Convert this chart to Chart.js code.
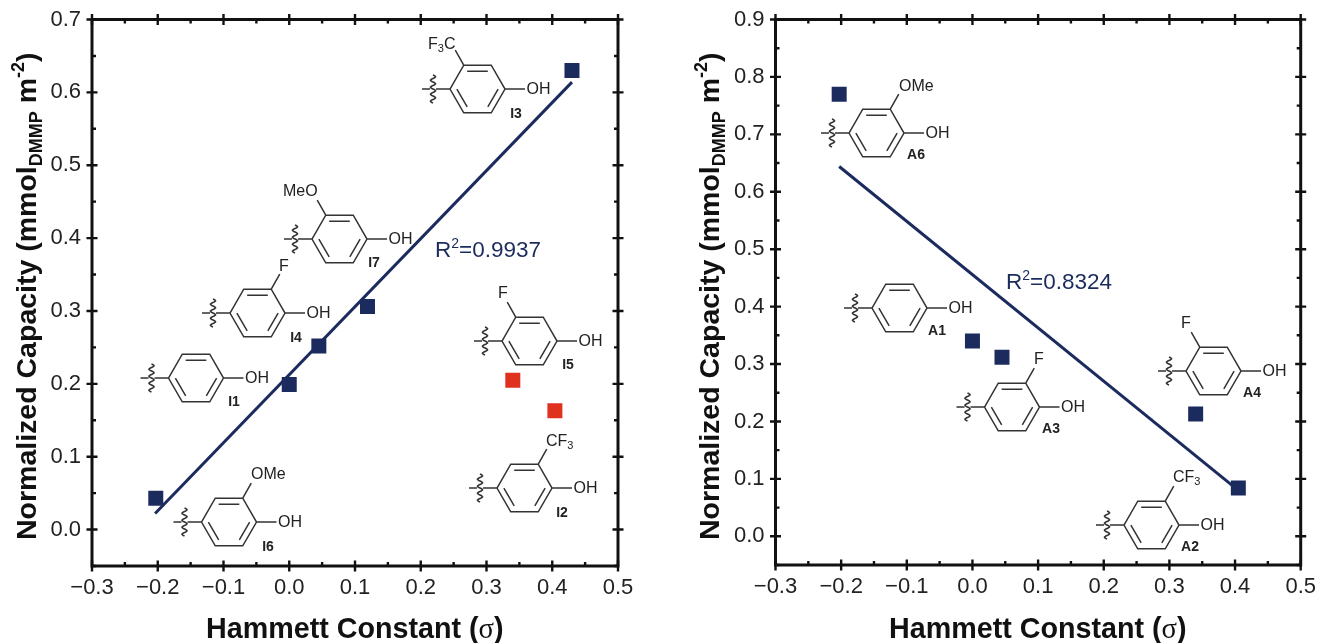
<!DOCTYPE html>
<html>
<head>
<meta charset="utf-8">
<title>Normalized capacity vs Hammett constant</title>
<script src="https://cdn.jsdelivr.net/npm/chart.js@4"></script>
<style>
    html, body { margin: 0; padding: 0; background: #fff; }
    canvas { position: absolute; top: 0; }
    #chartI { left: 0; }
    #chartA { left: 658px; }
</style>
</head>
<body>
<canvas id="chartI" width="658" height="643"></canvas>
<canvas id="chartA" width="659" height="643"></canvas>
<script>
// Left panel (I series)
const sigmaI = [-0.203, 0, 0.045, 0.119, 0.43];
const capacityI = [0.043, 0.199, 0.252, 0.306, 0.63];
const sigmaOutliers = [0.34, 0.404];
const capacityOutliers = [0.205, 0.163];
const fitSigmaI = [-0.204, 0.43];
const fitCapacityI = [0.022, 0.614];

// Right panel (A series)
const sigmaA = [-0.203, 0, 0.045, 0.34, 0.405];
const capacityA = [0.77, 0.34, 0.312, 0.213, 0.084];
const fitSigmaA = [-0.203, 0.405];
const fitCapacityA = [0.644, 0.08];

const NAVY = '#1b2b5e';
const RED = '#e0301e';
const SANS = '"Liberation Sans", Arial, sans-serif';

// Structure annotations, page pixels: ring centre, substituent side and text
const moleculesI = [
    { cx: 477.5, cy: 89, side: -1, sub: [['F'], ['3', 1], ['C']], subX: 428, subY: 45, name: 'I3', nameX: 516, nameY: 114 },
    { cx: 339.5, cy: 239, side: -1, sub: [['MeO']], subX: 283, subY: 192, name: 'I7', nameX: 374, nameY: 263 },
    { cx: 257.5, cy: 313, side: 1, sub: [['F']], subX: 279, subY: 267, name: 'I4', nameX: 296, nameY: 338 },
    { cx: 196, cy: 378, side: 0, name: 'I1', nameX: 234, nameY: 402 },
    { cx: 229, cy: 522, side: 1, sub: [['OMe']], subX: 251, subY: 475, name: 'I6', nameX: 268, nameY: 547 },
    { cx: 529.5, cy: 341, side: -1, sub: [['F']], subX: 498, subY: 294, name: 'I5', nameX: 568, nameY: 365 },
    { cx: 524.5, cy: 488, side: 1, sub: [['CF'], ['3', 1]], subX: 546, subY: 442, name: 'I2', nameX: 562, nameY: 513 }
];
const moleculesA = [
    { cx: 876.5, cy: 133, side: 1, sub: [['OMe']], subX: 899, subY: 87, name: 'A6', nameX: 916, nameY: 155 },
    { cx: 899.5, cy: 308, side: 0, name: 'A1', nameX: 937, nameY: 331 },
    { cx: 1012, cy: 407, side: 1, sub: [['F']], subX: 1034, subY: 360, name: 'A3', nameX: 1051, nameY: 429 },
    { cx: 1213.5, cy: 371, side: -1, sub: [['F']], subX: 1181, subY: 324, name: 'A4', nameX: 1252, nameY: 393 },
    { cx: 1151.5, cy: 525, side: 1, sub: [['CF'], ['3', 1]], subX: 1173, subY: 478, name: 'A2', nameX: 1190, nameY: 547 }
];

function toPoints(xs, ys) {
    return xs.map((x, i) => ({ x: x, y: ys[i] }));
}

// Draw text pieces one after the other; dy shifts sub/superscripts
function drawRuns(ctx, x, y, runs) {
    runs.forEach(run => {
        ctx.font = run.font;
        ctx.fillText(run.text, x, y + (run.dy || 0));
        x += ctx.measureText(run.text).width;
    });
}

function drawMolecule(ctx, m) {
    const r = 27.5;
    const hx = r / 2;
    const hy = r * Math.sqrt(3) / 2;
    const { cx, cy } = m;
    const verts = [[cx - r, cy], [cx - hx, cy - hy], [cx + hx, cy - hy], [cx + r, cy], [cx + hx, cy + hy], [cx - hx, cy + hy]];

    ctx.strokeStyle = '#333';
    ctx.lineWidth = 1.5;
    ctx.beginPath();
    verts.forEach((v, i) => (i ? ctx.lineTo(v[0], v[1]) : ctx.moveTo(v[0], v[1])));
    ctx.closePath();

    // inner double bonds: top, lower right, lower left
    [[1, 2], [3, 4], [5, 0]].forEach(([a, b]) => {
        const ax = cx + (verts[a][0] - cx) * 0.75, ay = cy + (verts[a][1] - cy) * 0.75;
        const bx = cx + (verts[b][0] - cx) * 0.75, by = cy + (verts[b][1] - cy) * 0.75;
        ctx.moveTo(ax, ay);
        ctx.lineTo(bx, by);
    });

    // bond to OH and bond to the wavy line
    ctx.moveTo(cx + r, cy);
    ctx.lineTo(cx + r + 20, cy);
    ctx.moveTo(cx - r, cy);
    ctx.lineTo(cx - r - 14, cy);
    ctx.moveTo(cx - r - 20, cy);
    ctx.lineTo(cx - r - 28, cy);

    // substituent bond
    if (m.side) {
        const sx = cx + m.side * hx;
        ctx.moveTo(sx, cy - hy);
        ctx.lineTo(sx + m.side * 8.5, cy - hy - 15);
    }
    ctx.stroke();

    // wavy line
    ctx.beginPath();
    for (let t = -14; t <= 14; t += 0.5) {
        const wx = cx - r - 17 + 2.6 * Math.sin(t * Math.PI / 3.5);
        if (t === -14) ctx.moveTo(wx, cy + t); else ctx.lineTo(wx, cy + t);
    }
    ctx.stroke();

    ctx.fillStyle = '#222';
    ctx.textAlign = 'left';
    ctx.textBaseline = 'middle';
    ctx.font = '16px ' + SANS;
    ctx.fillText('OH', cx + r + 21.5, cy + 1);
    if (m.sub) {
        drawRuns(ctx, m.subX, m.subY, m.sub.map(s => ({
            text: s[0],
            font: (s[1] ? '11px ' : '16px ') + SANS,
            dy: s[1] ? 4 : 0
        })));
    }
    ctx.font = 'bold 14px ' + SANS;
    ctx.textAlign = 'center';
    ctx.fillText(m.name, m.nameX, m.nameY);
}

// Frame with Origin-style ticks on all four sides, plus titles and structures
const decorations = {
    id: 'decorations',
    afterDraw(chart, args, opts) {
        const ctx = chart.ctx;
        const { left, right, top, bottom } = chart.chartArea;
        const xs = chart.scales.x;
        const ys = chart.scales.y;
        const isMajor = v => Math.abs(v * 10 - Math.round(v * 10)) < 1e-6;

        ctx.save();
        ctx.strokeStyle = '#111';
        ctx.lineWidth = 2.4;
        ctx.beginPath();
        xs.ticks.forEach(t => {
            const px = xs.getPixelForValue(t.value);
            const major = isMajor(t.value);
            ctx.moveTo(px, bottom + (major ? 5.5 : 0));
            ctx.lineTo(px, bottom - (major ? 5.5 : 4));
            ctx.moveTo(px, top - (major ? 5.5 : 0));
            ctx.lineTo(px, top + (major ? 5.5 : 4));
        });
        ys.ticks.forEach(t => {
            const py = ys.getPixelForValue(t.value);
            const major = isMajor(t.value);
            ctx.moveTo(left - (major ? 5.5 : 0), py);
            ctx.lineTo(left + (major ? 5.5 : 4), py);
            ctx.moveTo(right + (major ? 5.5 : 0), py);
            ctx.lineTo(right - (major ? 5.5 : 4), py);
        });
        ctx.stroke();
        ctx.lineWidth = 3;
        ctx.strokeRect(left, top, right - left, bottom - top);

        // x title
        ctx.fillStyle = '#111';
        ctx.textAlign = 'left';
        ctx.textBaseline = 'alphabetic';
        drawRuns(ctx, opts.xTitleX, 638, [
            { text: 'Hammett Constant (', font: 'bold 28.7px ' + SANS },
            { text: 'σ', font: '28.7px "Liberation Serif", serif' },
            { text: ')', font: 'bold 28.7px ' + SANS }
        ]);

        // y title, rotated, with subscript and superscript
        ctx.save();
        ctx.translate(opts.yTitleX, 540);
        ctx.rotate(-Math.PI / 2);
        drawRuns(ctx, 0, 0, [
            { text: 'Normalized Capacity (mmol', font: 'bold 28.5px ' + SANS },
            { text: 'DMMP', font: 'bold 18px ' + SANS, dy: 6 },
            { text: ' m', font: 'bold 28.5px ' + SANS },
            { text: '-2', font: 'bold 18px ' + SANS, dy: -12 },
            { text: ')', font: 'bold 28.5px ' + SANS }
        ]);
        ctx.restore();

        // R squared note
        ctx.fillStyle = NAVY;
        drawRuns(ctx, opts.r2X, opts.r2Y, [
            { text: 'R', font: '22.5px ' + SANS },
            { text: '2', font: '14px ' + SANS, dy: -9 },
            { text: opts.r2Text, font: '22.5px ' + SANS }
        ]);

        // structures use page pixels, so shift by the canvas offset
        ctx.translate(-opts.offset, 0);
        opts.molecules.forEach(m => drawMolecule(ctx, m));
        ctx.restore();
    }
};

function tickLabel(value) {
    const v = Number(value);
    if (Math.abs(v * 10 - Math.round(v * 10)) > 1e-6) return '';
    const rounded = Math.abs(v) < 1e-9 ? 0 : v;
    return rounded.toFixed(1).replace('-', '\u2212');
}

function makeScales(yMax, yWidth, xHeight) {
    const ticks = {
        stepSize: 0.05,
        autoSkip: false,
        maxRotation: 0,
        color: '#222',
        font: { family: SANS, size: 22 },
        callback: tickLabel
    };
    // fixed box sizes so the plot area does not move with the labels
    const fixPadding = scale => {
        scale.paddingTop = 0;
        scale.paddingBottom = 0;
        scale.paddingLeft = 0;
        scale.paddingRight = 0;
    };
    return {
        x: {
            type: 'linear',
            min: -0.3,
            max: 0.5,
            grid: { display: false, drawTicks: false },
            border: { display: false },
            ticks: Object.assign({}, ticks, { padding: 9 }),
            afterFit: scale => { scale.height = xHeight; fixPadding(scale); }
        },
        y: {
            type: 'linear',
            min: -0.05,
            max: yMax,
            grid: { display: false, drawTicks: false },
            border: { display: false },
            ticks: Object.assign({}, ticks, { padding: 11 }),
            afterFit: scale => { scale.width = yWidth; fixPadding(scale); }
        }
    };
}

function pointSet(xs, ys, color) {
    return {
        data: toPoints(xs, ys),
        showLine: false,
        pointStyle: 'rect',
        pointRadius: 10.6,
        pointBackgroundColor: color,
        pointBorderWidth: 0,
        order: 1
    };
}

function fitSet(xs, ys) {
    return {
        data: toPoints(xs, ys),
        showLine: true,
        borderColor: NAVY,
        borderWidth: 3,
        pointRadius: 0,
        order: 2
    };
}

new Chart(document.getElementById('chartI').getContext('2d'), {
    type: 'scatter',
    data: {
        datasets: [
            fitSet(fitSigmaI, fitCapacityI),
            pointSet(sigmaI, capacityI, NAVY),
            pointSet(sigmaOutliers, capacityOutliers, RED)
        ]
    },
    options: {
        responsive: false,
        animation: false,
        layout: { padding: { top: 19.5, right: 40, left: 0, bottom: 0 } },
        scales: makeScales(0.7, 92, 77),
        plugins: {
            legend: { display: false },
            tooltip: { enabled: false },
            decorations: {
                offset: 0, xTitleX: 206, yTitleX: 36, r2X: 435, r2Y: 257, r2Text: '=0.9937', molecules: moleculesI
            }
        }
    },
    plugins: [decorations]
});

new Chart(document.getElementById('chartA').getContext('2d'), {
    type: 'scatter',
    data: {
        datasets: [
            fitSet(fitSigmaA, fitCapacityA),
            pointSet(sigmaA, capacityA, NAVY)
        ]
    },
    options: {
        responsive: false,
        animation: false,
        layout: { padding: { top: 19.5, right: 16.3, left: 0, bottom: 0 } },
        scales: makeScales(0.9, 117.5, 78),
        plugins: {
            legend: { display: false },
            tooltip: { enabled: false },
            decorations: {
                offset: 658, xTitleX: 231, yTitleX: 61, r2X: 348, r2Y: 289, r2Text: '=0.8324', molecules: moleculesA
            }
        }
    },
    plugins: [decorations]
});
</script>
</body>
</html>
